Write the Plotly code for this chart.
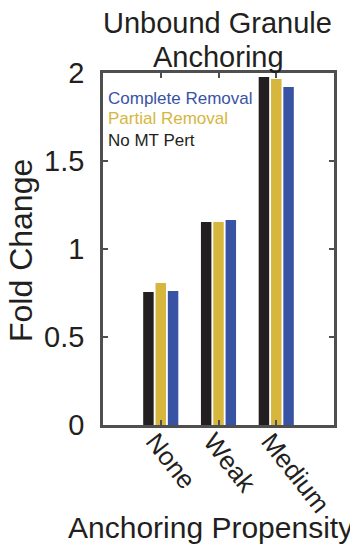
import plotly.graph_objects as go

categories = ["None", "Weak", "Medium"]
cat_pos = [1, 2, 3]
no_mt_pert = [0.756, 1.153, 1.977]
partial_removal = [0.807, 1.153, 1.966]
complete_removal = [0.761, 1.165, 1.920]
y_ticks = [0, 0.5, 1, 1.5, 2]
y_tick_labels = ["0", "0.5", "1", "1.5", "2"]

c_black = "#231f20"
c_yellow = "#d6b63d"
c_blue = "#3953a4"
axis_col = "#4f4f4f"
txt_col = "#231f20"
font_family = "Liberation Sans, Arial, sans-serif"

# page body has an 8px margin; plot area targets x 103-334, y 73-425 on screen
OFF = 8
L, T = 103, 73
PW, PH = 231, 352

fig = go.Figure()
for name, vals, col in [("No MT Pert", no_mt_pert, c_black),
                        ("Partial Removal", partial_removal, c_yellow),
                        ("Complete Removal", complete_removal, c_blue)]:
    fig.add_trace(go.Bar(x=cat_pos, y=vals, name=name, marker_color=col,
                         marker_line_width=0, showlegend=False))

fig.update_layout(
    width=358 - OFF, height=544 - OFF,
    margin=dict(l=L - OFF, r=358 - L - PW, t=T - OFF, b=544 - T - PH),
    paper_bgcolor="white", plot_bgcolor="white",
    barmode="group", bargap=0.36, bargroupgap=0.15,
    font=dict(family=font_family, color=txt_col),
)
fig.update_xaxes(range=[0, 4], tickvals=cat_pos, ticktext=categories,
                 tickangle=52, tickfont=dict(size=26, color=txt_col),
                 ticklabelstandoff=-12, ticklabelshift=-6, automargin=False,
                 ticks="inside", ticklen=5, tickwidth=2, tickcolor=axis_col,
                 showline=True, linecolor=axis_col, linewidth=2.5, mirror="ticks",
                 showgrid=False, zeroline=False)
fig.update_yaxes(range=[0, 2], tickvals=y_ticks, ticktext=y_tick_labels,
                 tickfont=dict(size=29, color=txt_col), ticklabelstandoff=10,
                 automargin=False,
                 ticks="inside", ticklen=5, tickwidth=2, tickcolor=axis_col,
                 showline=True, linecolor=axis_col, linewidth=2.5, mirror="ticks",
                 showgrid=False, zeroline=False)


def px(xs):
    return (xs - L) / PW


def py(ys):
    return 1 - (ys - T) / PH


# title lines
fig.add_annotation(text="Unbound Granule", xref="paper", yref="paper",
                   x=px(217), y=py(23), xanchor="center", yanchor="middle",
                   showarrow=False, font=dict(size=29, color=txt_col))
fig.add_annotation(text="Anchoring", xref="paper", yref="paper",
                   x=px(218), y=py(57), xanchor="center", yanchor="middle",
                   showarrow=False, font=dict(size=29, color=txt_col))

# legend as colored text
leg = [("Complete Removal", c_blue, 98), ("Partial Removal", c_yellow, 119), ("No MT Pert", c_black, 140)]
for txt, col, ypx in leg:
    fig.add_annotation(text=txt, xref="paper", yref="paper",
                       x=px(106), y=py(ypx), xanchor="left", yanchor="middle",
                       showarrow=False, font=dict(size=17, color=col))

fig.add_annotation(text="Fold Change", xref="paper", yref="paper",
                   x=px(21), y=py(251), textangle=-90,
                   xanchor="center", yanchor="middle", showarrow=False,
                   font=dict(size=32, color=txt_col))
fig.add_annotation(text="Anchoring Propensity", xref="paper", yref="paper",
                   x=px(210), y=py(527),
                   xanchor="center", yanchor="middle", showarrow=False,
                   font=dict(size=30, color=txt_col))

fig.write_html("out.html")
